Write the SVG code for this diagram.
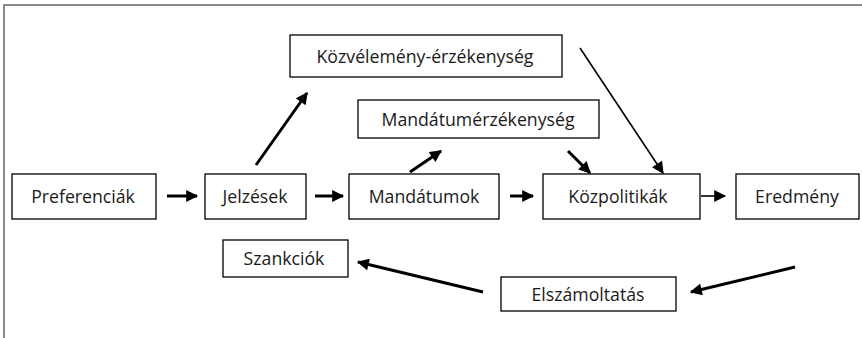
<svg xmlns="http://www.w3.org/2000/svg" width="862" height="338" viewBox="0 0 862 338">
<defs>
<style>
.box{fill:#fff;stroke:#000;stroke-width:1.3}
.lbl{font-family:"Open Sans","Noto Sans","Liberation Sans",sans-serif;font-size:17.7px;fill:#1a1a1a;text-anchor:middle}
.c{stroke:#000;fill:none}
.thick{stroke-width:3}
.thin{stroke-width:1.6}
</style>
<marker id="ah" viewBox="0 0 10 10" refX="9" refY="5" markerWidth="14" markerHeight="12" markerUnits="userSpaceOnUse" orient="auto"><path d="M0,0 L10,5 L0,10 z" fill="#000"/></marker>
</defs>
<rect width="862" height="338" fill="#fff"/>
<path d="M4,338 V5 H862" fill="none" stroke="#8a8a8a" stroke-width="2"/>
<g id="kozvelemeny"><rect class="box" x="290" y="35" width="272" height="42"/><text class="lbl" x="425" y="63">Közvélemény-érzékenység</text></g>
<g id="mandatumerzekenyseg"><rect class="box" x="358" y="100" width="241" height="38"/><text class="lbl" x="478" y="126">Mandátumérzékenység</text></g>
<g id="preferenciak"><rect class="box" x="12" y="174" width="144" height="45"/><text class="lbl" x="83" y="203">Preferenciák</text></g>
<g id="jelzesek"><rect class="box" x="205" y="174" width="101" height="45"/><text class="lbl" x="255" y="203">Jelzések</text></g>
<g id="mandatumok"><rect class="box" x="349" y="174" width="150" height="45"/><text class="lbl" x="424" y="203">Mandátumok</text></g>
<g id="kozpolitikak"><rect class="box" x="543" y="174" width="157" height="45"/><text class="lbl" x="618" y="203">Közpolitikák</text></g>
<g id="eredmeny"><rect class="box" x="736" y="174" width="123" height="45"/><text class="lbl" x="797" y="203">Eredmény</text></g>
<g id="szankciok"><rect class="box" x="223" y="240" width="125" height="37"/><text class="lbl" x="284" y="265">Szankciók</text></g>
<g id="elszamoltatas"><rect class="box" x="501" y="277" width="175" height="34"/><text class="lbl" x="588" y="301">Elszámoltatás</text></g>
<g id="connectors">
<line class="c thick" x1="167" y1="196" x2="197" y2="196" marker-end="url(#ah)"/>
<line class="c thick" x1="315" y1="196" x2="343" y2="196" marker-end="url(#ah)"/>
<line class="c thick" x1="510" y1="196" x2="533" y2="196" marker-end="url(#ah)"/>
<line class="c thin" x1="701" y1="196" x2="725" y2="196" marker-end="url(#ah)"/>
<line class="c thick" x1="256" y1="165" x2="307" y2="93" marker-end="url(#ah)"/>
<line class="c thick" x1="410" y1="172" x2="441" y2="151" marker-end="url(#ah)"/>
<line class="c thick" x1="568" y1="151" x2="590" y2="173" marker-end="url(#ah)"/>
<line class="c thin" x1="580" y1="48" x2="663" y2="173" marker-end="url(#ah)"/>
<line class="c thick" x1="795" y1="267" x2="691" y2="292" marker-end="url(#ah)"/>
<line class="c thick" x1="483" y1="292" x2="358" y2="262" marker-end="url(#ah)"/>
</g>
</svg>
